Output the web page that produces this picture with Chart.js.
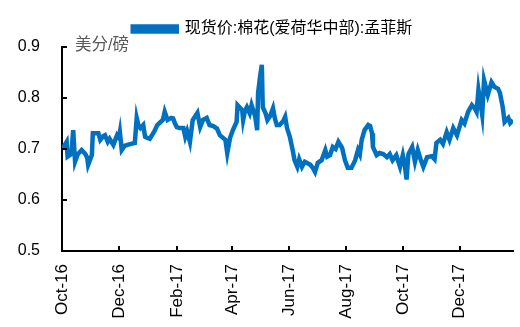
<!DOCTYPE html>
<html>
<head>
<meta charset="utf-8">
<script src="https://cdn.jsdelivr.net/npm/chart.js@4/dist/chart.umd.min.js"></script>
<style>
    html, body { margin: 0; padding: 0; background: #fff; }
    #wrap { width: 520px; height: 327px; position: relative; }
</style>
</head>
<body>
<div id="wrap"><canvas id="chart"></canvas></div>
<script>
// Cotton spot price, central Iowa, Memphis (US cents / lb)
const seriesName = "现货价:棉花(爱荷华中部):孟菲斯";
const unitLabel = "美分/磅";
const startDate = "2016-10-01";

// days after startDate
const days = [
    0, 2, 5, 6, 10, 12, 14, 17, 21, 25, 27, 28, 32, 33, 36, 39, 41, 44, 46, 49,
    51, 55, 59, 61, 62, 64, 67, 70, 74, 78, 80, 82, 84, 87, 89, 91, 94, 99, 102, 105,
    108, 110, 113, 117, 119, 121, 123, 126, 130, 132, 134, 137, 140, 145, 148, 151, 155, 158, 162, 166,
    169, 175, 177, 180, 183, 187, 188, 193, 194, 196, 198, 201, 203, 207, 209, 210, 212, 214, 215, 218,
    220, 223, 226, 228, 230, 233, 237, 239, 241, 244, 247, 249, 252, 254, 257, 260, 263, 266, 269, 271,
    274, 278, 282, 284, 287, 290, 293, 296, 300, 303, 306, 310, 314, 317, 319, 321, 324, 328, 330, 332,
    333, 337, 340, 344, 348, 351, 354, 358, 362, 365, 367, 369, 371, 375, 378, 381, 384, 387, 391, 396,
    399, 401, 405, 408, 412, 415, 419, 423, 426, 428, 431, 435, 439, 442, 444, 446, 450, 452, 456, 460,
    463, 467, 469, 472, 474, 478, 480, 483
];
const prices = [
    0.700, 0.705, 0.714, 0.685, 0.690, 0.737, 0.675, 0.690, 0.698, 0.690, 0.683, 0.669, 0.688, 0.731, 0.731, 0.731, 0.718, 0.725, 0.727, 0.714,
    0.720, 0.708, 0.727, 0.722, 0.733, 0.698, 0.706, 0.708, 0.710, 0.712, 0.761, 0.745, 0.741, 0.747, 0.724, 0.722, 0.720, 0.735, 0.747, 0.752,
    0.757, 0.773, 0.757, 0.761, 0.760, 0.750, 0.743, 0.741, 0.741, 0.724, 0.735, 0.714, 0.757, 0.771, 0.743, 0.757, 0.761, 0.747, 0.745, 0.740,
    0.727, 0.718, 0.692, 0.722, 0.737, 0.753, 0.786, 0.776, 0.757, 0.775, 0.782, 0.770, 0.786, 0.763, 0.737, 0.810, 0.840, 0.865, 0.782, 0.770,
    0.757, 0.765, 0.780, 0.760, 0.747, 0.747, 0.755, 0.763, 0.741, 0.724, 0.698, 0.678, 0.665, 0.680, 0.665, 0.675, 0.672, 0.669, 0.662, 0.655,
    0.673, 0.678, 0.698, 0.685, 0.688, 0.704, 0.700, 0.714, 0.702, 0.678, 0.663, 0.663, 0.678, 0.698, 0.690, 0.718, 0.737, 0.747, 0.745, 0.731,
    0.704, 0.688, 0.692, 0.690, 0.684, 0.690, 0.678, 0.688, 0.665, 0.688, 0.670, 0.640, 0.690, 0.704, 0.675, 0.698, 0.680, 0.665, 0.684, 0.686,
    0.680, 0.712, 0.718, 0.710, 0.733, 0.718, 0.741, 0.727, 0.745, 0.757, 0.750, 0.773, 0.786, 0.780, 0.773, 0.816, 0.767, 0.835, 0.806, 0.831,
    0.822, 0.818, 0.810, 0.782, 0.753, 0.761, 0.751, 0.757
];

const tickDates = ["2016-10-01", "2016-12-01", "2017-02-01", "2017-04-01", "2017-06-01", "2017-08-01", "2017-10-01", "2017-12-01"];
const tickLabels = ["Oct-16", "Dec-16", "Feb-17", "Apr-17", "Jun-17", "Aug-17", "Oct-17", "Dec-17"];
const lastDay = 483;

const yMin = 0.5, yMax = 0.9, yStep = 0.1;

const FONT = '"Liberation Sans", Arial, "Noto Sans CJK SC", sans-serif';
const LINE_COLOR = "#0070C0";

function dayOffset(dateStr) {
    const ms = new Date(dateStr + "T00:00:00Z") - new Date(startDate + "T00:00:00Z");
    return Math.round(ms / 86400000);
}
const tickDays = tickDates.map(dayOffset);

// short inward tick marks + unit label
const extrasPlugin = {
    id: "extras",
    afterLayout(chart) {
        // legend sits a little right of the canvas centre in the original
        chart.legend.left += 16;
        chart.legend.right += 16;
    },
    afterDraw(chart) {
        const ctx = chart.ctx;
        const xs = chart.scales.x, ys = chart.scales.y;
        const area = chart.chartArea;
        ctx.save();
        ctx.strokeStyle = "#000";
        ctx.lineWidth = 2;
        ys.ticks.forEach((t) => {
            const py = Math.round(ys.getPixelForValue(t.value));
            ctx.beginPath();
            ctx.moveTo(area.left, py);
            ctx.lineTo(area.left + 5, py);
            ctx.stroke();
        });
        xs.ticks.forEach((t) => {
            const px = Math.round(xs.getPixelForValue(t.value));
            ctx.beginPath();
            ctx.moveTo(px, area.bottom);
            ctx.lineTo(px, area.bottom - 5);
            ctx.stroke();
        });
        ctx.fillStyle = "#595959";
        ctx.font = "16.5px " + FONT;
        ctx.textBaseline = "middle";
        ctx.textAlign = "left";
        ctx.fillText(unitLabel, area.left + 13, area.top - 2);
        ctx.restore();
    },
};

new Chart(document.getElementById("chart"), {
    type: "line",
    data: {
        datasets: [
            {
                label: seriesName,
                data: days.map((d, i) => ({ x: d, y: prices[i] })),
                borderColor: LINE_COLOR,
                backgroundColor: LINE_COLOR,
                borderWidth: 4.5,
                pointRadius: 0,
                tension: 0,
                fill: false,
            },
        ],
    },
    options: {
        responsive: true,
        maintainAspectRatio: false,
        animation: false,
        layout: { padding: { left: 0, right: 7, top: 8, bottom: 0 } },
        plugins: {
            legend: {
                display: true,
                position: "top",
                labels: {
                    boxWidth: 44,
                    boxHeight: 5,
                    padding: 13,
                    color: "#000",
                    font: { size: 16, family: FONT },
                },
            },
            tooltip: { enabled: false },
        },
        scales: {
            x: {
                type: "linear",
                min: 0,
                max: lastDay,
                afterBuildTicks: (scale) => {
                    scale.ticks = tickDays.map((v) => ({ value: v }));
                },
                afterFit: (scale) => {
                    scale.height = 76;
                },
                ticks: {
                    autoSkip: false,
                    minRotation: 90,
                    maxRotation: 90,
                    padding: 13,
                    color: "#000",
                    font: { size: 17, family: FONT },
                    callback: (value) => {
                        const i = tickDays.indexOf(value);
                        return i >= 0 ? tickLabels[i] : "";
                    },
                },
                grid: { drawOnChartArea: false, drawTicks: false },
                border: { display: true, color: "#000", width: 2 },
            },
            y: {
                min: yMin,
                max: yMax,
                afterFit: (scale) => {
                    scale.width = 62;
                },
                ticks: {
                    stepSize: yStep,
                    padding: 22,
                    color: "#000",
                    font: { size: 16, family: FONT },
                    callback: (value) => value.toFixed(1),
                },
                grid: { drawOnChartArea: false, drawTicks: false },
                border: { display: true, color: "#000", width: 2 },
            },
        },
    },
    plugins: [extrasPlugin],
});
</script>
</body>
</html>
